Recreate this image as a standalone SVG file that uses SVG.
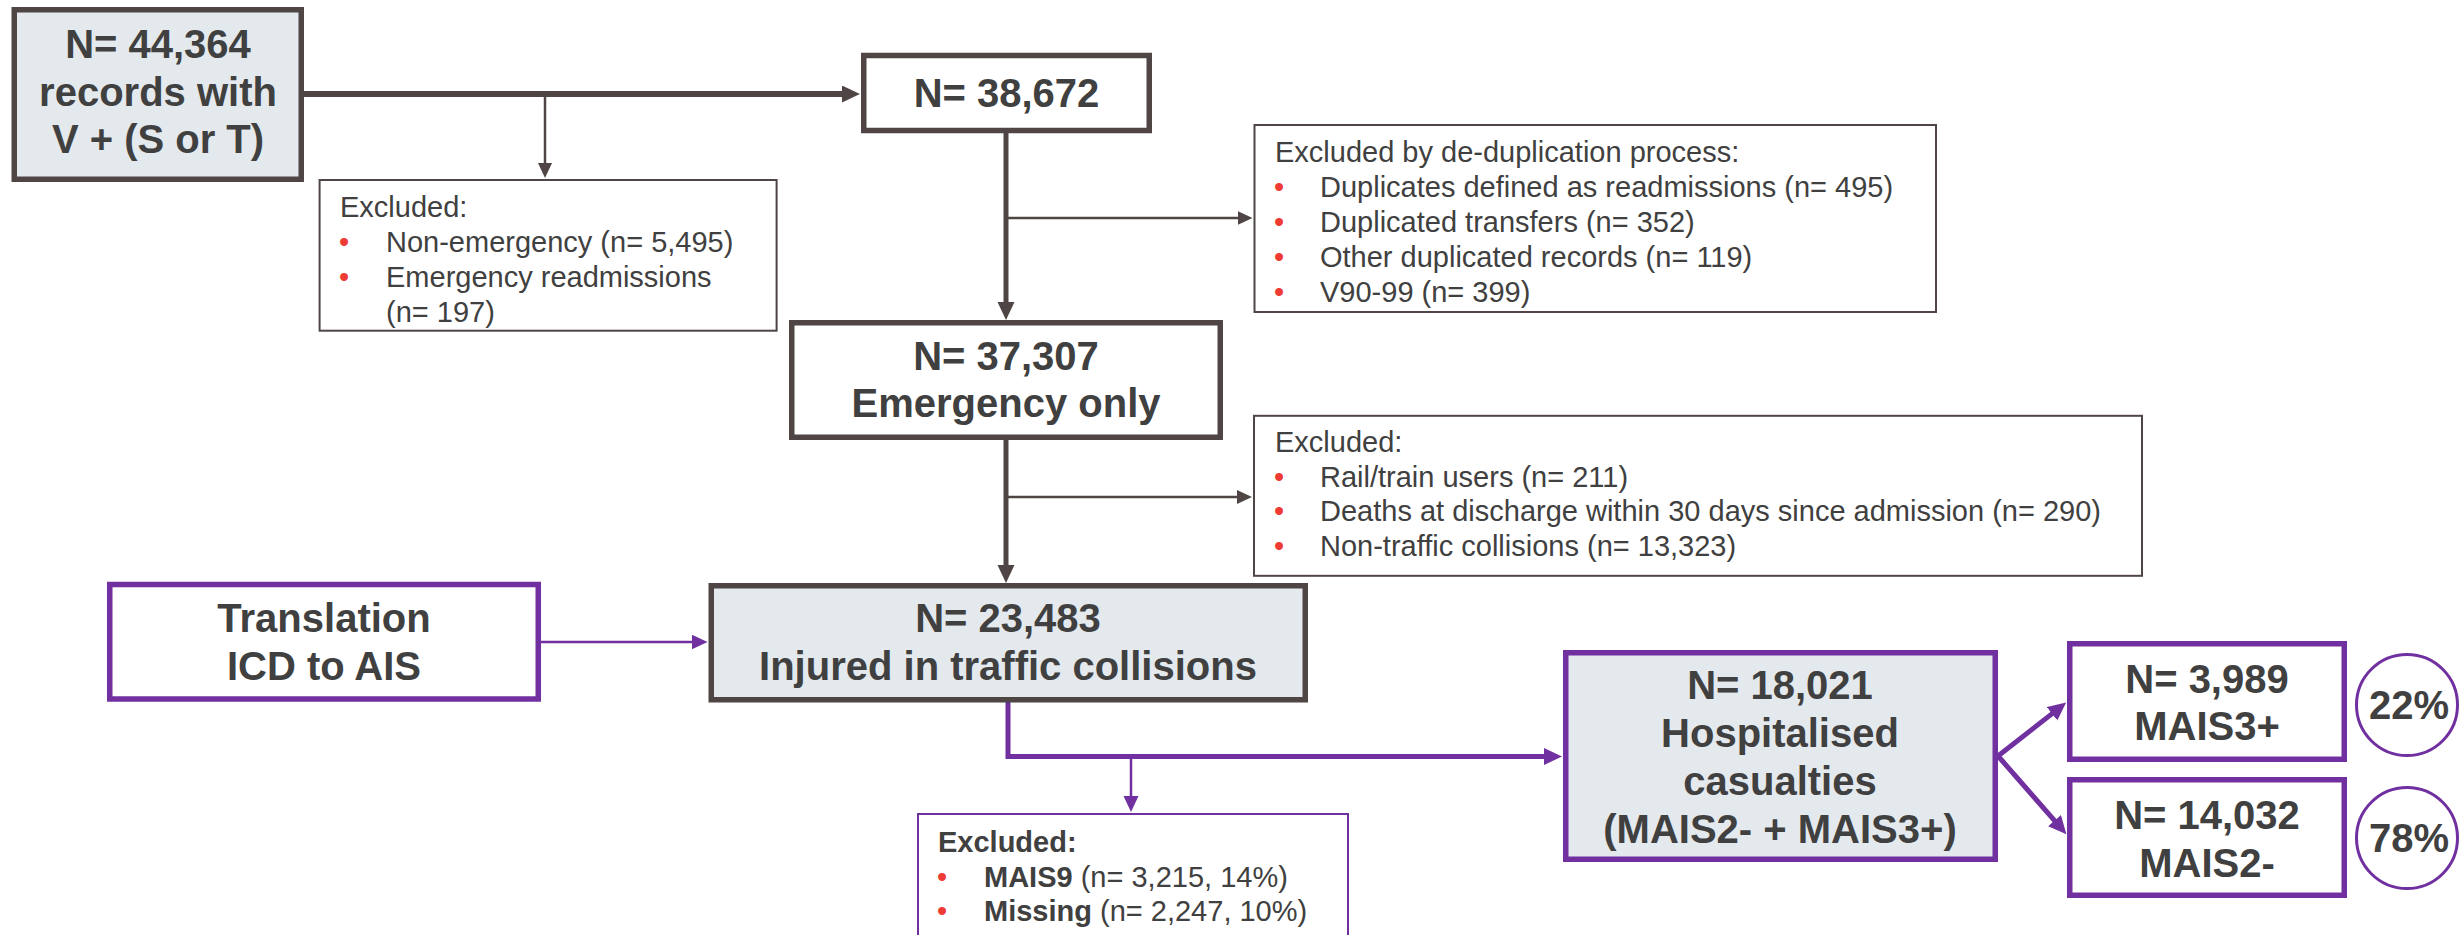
<svg xmlns="http://www.w3.org/2000/svg" width="2461" height="935" viewBox="0 0 2461 935">
<style>
.bg{fill:#ffffff}
.dbox{stroke:#4F4545;stroke-width:5.5}
.pbox{stroke:#7030A0;stroke-width:5.5}
.grey{fill:#E4E9EE}
.white{fill:#ffffff}
.thin{fill:#ffffff;stroke:#4F4545;stroke-width:2}
.pthin{fill:none;stroke:#7030A0;stroke-width:2}
.circ{fill:#ffffff;stroke:#7030A0;stroke-width:3}
.big{font-family:"Liberation Sans",Arial,sans-serif;font-weight:bold;font-size:40px;fill:#404040;text-anchor:middle}
.sm{font-family:"Liberation Sans",Arial,sans-serif;font-size:29px;fill:#404040}
.b{font-weight:bold}
.bul{fill:#EE3B33}
.cd{fill:none;stroke:#4F4545}
.cp{fill:none;stroke:#7030A0}
.w6{stroke-width:6}
.w5{stroke-width:5}
.w3{stroke-width:2.5}
</style>
<defs>
<marker id="ahD" markerUnits="userSpaceOnUse" markerWidth="19" markerHeight="18" refX="1" refY="8.5" orient="auto"><path d="M0,0 L18,8.5 L0,17 Z" fill="#4F4545"/></marker>
<marker id="ahDt" markerUnits="userSpaceOnUse" markerWidth="16" markerHeight="15" refX="1" refY="7" orient="auto"><path d="M0,0 L15,7 L0,14 Z" fill="#4F4545"/></marker>
<marker id="ahP" markerUnits="userSpaceOnUse" markerWidth="19" markerHeight="18" refX="1" refY="8.5" orient="auto"><path d="M0,0 L18,8.5 L0,17 Z" fill="#7030A0"/></marker>
<marker id="ahPt" markerUnits="userSpaceOnUse" markerWidth="17" markerHeight="16" refX="1" refY="7.5" orient="auto"><path d="M0,0 L16,7.5 L0,15 Z" fill="#7030A0"/></marker>
</defs>
<rect class="bg" x="0" y="0" width="2461" height="935"/>

<g id="connectors">
<path class="cd w6" d="M304,94 H843" marker-end="url(#ahD)"/>
<path class="cd w3" d="M545,94 V164" marker-end="url(#ahDt)"/>
<path class="cd w5" d="M1006,133 V303" marker-end="url(#ahD)"/>
<path class="cd w3" d="M1006,218 H1238.5" marker-end="url(#ahDt)"/>
<path class="cd w5" d="M1006,440 V566" marker-end="url(#ahD)"/>
<path class="cd w3" d="M1006,497 H1238" marker-end="url(#ahDt)"/>
<path class="cp w3" d="M541,642 H692.5" marker-end="url(#ahPt)"/>
<path class="cp w5" d="M1008,702 V756.5 H1545" marker-end="url(#ahP)"/>
<path class="cp w3" d="M1131,756.5 V797" marker-end="url(#ahPt)"/>
<path class="cp w5" d="M1998,756 L2052.8,713.1" marker-end="url(#ahP)"/>
<path class="cp w5" d="M1998,756 L2055.2,821.4" marker-end="url(#ahP)"/>
</g>

<g id="n44364">
<rect class="dbox grey" x="14.25" y="9.75" width="287" height="169.5"/>
<text class="big" x="158" y="58">N= 44,364</text>
<text class="big" x="158" y="105.5">records with</text>
<text class="big" x="158" y="153">V + (S or T)</text>
</g>

<g id="n38672">
<rect class="dbox white" x="863.75" y="55.5" width="285.5" height="75"/>
<text class="big" x="1006.5" y="107">N= 38,672</text>
</g>

<g id="excl1">
<rect class="thin" x="319.6" y="180" width="457" height="150.7"/>
<text class="sm" x="340" y="217">Excluded:</text>
<text class="sm bul" x="339" y="252">•</text>
<text class="sm" x="386" y="252">Non-emergency (n= 5,495)</text>
<text class="sm bul" x="339" y="287">•</text>
<text class="sm" x="386" y="287">Emergency readmissions</text>
<text class="sm" x="386" y="322">(n= 197)</text>
</g>

<g id="excl2">
<rect class="thin" x="1254.5" y="125" width="681.5" height="187"/>
<text class="sm" x="1275" y="162">Excluded by de-duplication process:</text>
<text class="sm bul" x="1274" y="197">•</text>
<text class="sm" x="1320" y="197">Duplicates defined as readmissions (n= 495)</text>
<text class="sm bul" x="1274" y="232">•</text>
<text class="sm" x="1320" y="232">Duplicated transfers (n= 352)</text>
<text class="sm bul" x="1274" y="267">•</text>
<text class="sm" x="1320" y="267">Other duplicated records (n= 119)</text>
<text class="sm bul" x="1274" y="302">•</text>
<text class="sm" x="1320" y="302">V90-99 (n= 399)</text>
</g>

<g id="n37307">
<rect class="dbox white" x="791.75" y="322.75" width="428.5" height="114.5"/>
<text class="big" x="1006" y="370">N= 37,307</text>
<text class="big" x="1006" y="416.5">Emergency only</text>
</g>

<g id="excl3">
<rect class="thin" x="1254" y="415.8" width="888" height="160"/>
<text class="sm" x="1275" y="452">Excluded:</text>
<text class="sm bul" x="1274" y="486.5">•</text>
<text class="sm" x="1320" y="486.5">Rail/train users (n= 211)</text>
<text class="sm bul" x="1274" y="521">•</text>
<text class="sm" x="1320" y="521">Deaths at discharge within 30 days since admission (n= 290)</text>
<text class="sm bul" x="1274" y="555.5">•</text>
<text class="sm" x="1320" y="555.5">Non-traffic collisions (n= 13,323)</text>
</g>

<g id="translation">
<rect class="pbox white" x="109.75" y="584.5" width="428.5" height="114.5"/>
<text class="big" x="324" y="632">Translation</text>
<text class="big" x="324" y="679.5">ICD to AIS</text>
</g>

<g id="n23483">
<rect class="dbox grey" x="711.25" y="585.75" width="594" height="114"/>
<text class="big" x="1008" y="632">N= 23,483</text>
<text class="big" x="1008" y="680">Injured in traffic collisions</text>
</g>

<g id="excl4">
<path class="pthin" d="M918,940 V814 H1348 V940"/>
<text class="sm b" x="938" y="852">Excluded:</text>
<text class="sm bul" x="937" y="886.5">•</text>
<text class="sm" x="984" y="886.5"><tspan class="b">MAIS9</tspan> (n= 3,215, 14%)</text>
<text class="sm bul" x="937" y="921">•</text>
<text class="sm" x="984" y="921"><tspan class="b">Missing</tspan> (n= 2,247, 10%)</text>
</g>

<g id="n18021">
<rect class="pbox grey" x="1565.75" y="652.75" width="429.5" height="206.5"/>
<text class="big" x="1780" y="699">N= 18,021</text>
<text class="big" x="1780" y="747">Hospitalised</text>
<text class="big" x="1780" y="795">casualties</text>
<text class="big" x="1780" y="843">(MAIS2- + MAIS3+)</text>
</g>

<g id="n3989">
<rect class="pbox white" x="2069.75" y="643.75" width="274.5" height="115.5"/>
<text class="big" x="2207" y="693">N= 3,989</text>
<text class="big" x="2207" y="740">MAIS3+</text>
</g>

<g id="n14032">
<rect class="pbox white" x="2069.75" y="779.75" width="274.5" height="115.5"/>
<text class="big" x="2207" y="829">N= 14,032</text>
<text class="big" x="2207" y="877">MAIS2-</text>
</g>

<g id="p22">
<circle class="circ" cx="2407" cy="705" r="50.5"/>
<text class="big" x="2409" y="719">22%</text>
</g>

<g id="p78">
<circle class="circ" cx="2407" cy="838" r="50.5"/>
<text class="big" x="2409" y="852">78%</text>
</g>
</svg>
